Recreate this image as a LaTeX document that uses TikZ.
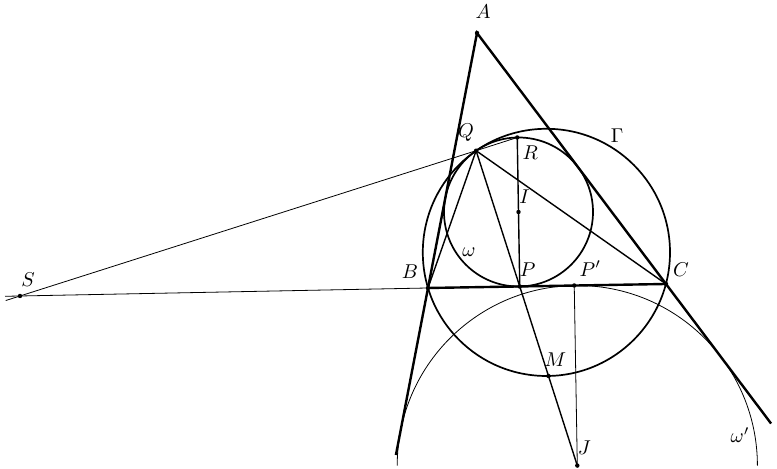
\documentclass[tikz,border=0pt]{standalone}
\usetikzlibrary{calc}
\begin{document}
\begin{tikzpicture}[x=0.5pt, y=0.5pt,
        side/.style={line width=1.2pt},
        round/.style={line width=0.85pt},
        cev/.style={line width=0.7pt},
        aux/.style={line width=0.4pt},
        pt/.style={fill, circle, inner sep=0pt, minimum size=2.2pt}]
            \useasboundingbox (0, 0) rectangle (777, 469);

            % points of the figure
            \coordinate (A) at (477, 436);
            \coordinate (B) at (428, 181);
            \coordinate (C) at (666, 185);
            \coordinate (P) at (519.75, 182.5);
            \coordinate (Pp) at (574.25, 183.5);
            \coordinate (I) at (518.5, 257);
            \coordinate (R) at (517.25, 331.5);
            \coordinate (Q) at (476.1, 318.3);
            \coordinate (J) at (577.3, 3.4);
            \coordinate (M) at (548.5, 93);
            \coordinate (O) at (546.4, 216.6);
            \coordinate (S) at (20, 173);

            % circles omega, Gamma and the arc of omega'
            \draw[round] (I) circle [radius=37.25pt];
            \draw[round] (O) circle [radius=61.8pt];
            \draw[aux] ($(J) + (-180.1, 0)$) arc [start angle=180, end angle=0, radius=90.05pt];

            % triangle with extended sides
            \draw[side] ($(A)!1.655!(B)$) -- (A) -- ($(A)!1.556!(C)$);
            \draw[side] (B) -- (C);

            \draw[aux] ($(S)!-7.5pt!(B)$) -- (B);
            \draw[aux] ($(S)!-7.5pt!(Q)$) -- (Q) -- (R);
            \draw[cev] (Q) -- (B);
            \draw[cev] (Q) -- (C);
            \draw[cev] (Q) -- (J);
            \draw[cev] (R) -- (P);
            \draw[aux] (Pp) -- (J);

            \foreach \p in {A, B, C, P, Pp, I, R, Q, J, M, S}
                \node[pt] at (\p) {};

            \node (lA) at ($(A) + (6, 21)$) {$A$};
            \node (lQ) at ($(Q) + (-10, 18)$) {$Q$};
            \node (lR) at ($(R) + (13, -15)$) {$R$};
            \node (lI) at ($(I) + (6, 15)$) {$I$};
            \node (lw) at (469, 217) {$\omega$};
            \node (lP) at ($(P) + (8, 17)$) {$P$};
            \node (lPp) at ($(Pp) + (16, 17)$) {$P'$};
            \node (lB) at ($(B) + (-18, 16)$) {$B$};
            \node (lC) at ($(C) + (15, 14)$) {$C$};
            \node (lS) at ($(S) + (8, 16)$) {$S$};
            \node (lM) at ($(M) + (7, 16)$) {$M$};
            \node (lJ) at ($(J) + (7, 18)$) {$J$};
            \node (lG) at (617, 333) {$\Gamma$};
            \node (lw2) at (740, 34) {$\omega'$};
        \end{tikzpicture}
\end{document}
